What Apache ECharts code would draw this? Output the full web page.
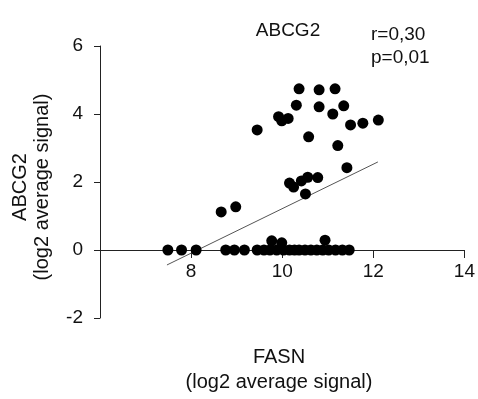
<!DOCTYPE html>
<html>
<head>
<meta charset="utf-8">
<script src="https://cdn.jsdelivr.net/npm/echarts@6/dist/echarts.min.js"></script>
<style>html,body{margin:0;padding:0;background:#fff;}#c{width:478px;height:399px;}</style>
</head>
<body>
<div id="c"></div>
<script>
var xTicks = [6, 8, 10, 12, 14];
var yTicks = [-2, 0, 2, 4, 6];
var fasn = [7.49, 7.79, 8.11, 8.76, 8.95, 9.17, 9.45, 9.60, 9.73, 9.88, 10.03, 10.16, 10.27, 10.37, 10.50, 10.63, 10.76, 10.89, 11.02, 11.17, 11.32, 11.47,
            9.77, 9.99, 10.94,
            9.45, 9.92, 9.99, 10.13, 10.37, 10.31, 10.81, 11.16, 10.81, 11.35, 11.11, 11.50, 11.77, 12.11, 10.58, 11.22, 11.42,
            10.16, 10.25, 10.42, 10.56, 10.78, 10.51, 8.98, 8.66];
var abcg2 = [0, 0, 0, 0, 0, 0, 0, 0, 0, 0, 0, 0, 0, 0, 0, 0, 0, 0, 0, 0, 0, 0,
             0.27, 0.21, 0.29,
             3.53, 3.92, 3.80, 3.87, 4.74, 4.26, 4.71, 4.74, 4.21, 4.24, 4.00, 3.68, 3.73, 3.82, 3.33, 3.07, 2.42,
             1.97, 1.85, 2.03, 2.14, 2.13, 1.65, 1.27, 1.12];
var fitX = [7.47, 12.10];
var fitY = [-0.44, 2.59];
var titleText = 'ABCG2';
var statLines = ['r=0,30', 'p=0,01'];
var xNameLines = ['FASN', '(log2 average signal)'];
var yNameLines = ['ABCG2', '(log2 average signal)'];

var pts = fasn.map(function (x, i) { return [x, abcg2[i]]; });
var fit = fitX.map(function (x, i) { return [x, fitY[i]]; });
var FONT = 'Liberation Sans, Arial, sans-serif';
var axisCol = '#222';

var gridTop = 46, gridBottom = 81, H = 399;
var plotH = H - gridTop - gridBottom;
var yMin = yTicks[0], yMax = yTicks[yTicks.length - 1];
var zeroOffset = -plotH * (0 - yMin) / (yMax - yMin);

var chart = echarts.init(document.getElementById('c'));
chart.setOption({
  animation: false,
  backgroundColor: '#fff',
  grid: { left: 100, right: 6, top: gridTop, bottom: gridBottom },
  xAxis: {
    type: 'value', min: xTicks[0], max: xTicks[xTicks.length - 1], interval: 2,
    position: 'bottom', offset: zeroOffset,
    axisLine: { onZero: false, lineStyle: { color: axisCol, width: 1 } },
    axisTick: { show: true, length: 8, inside: false, lineStyle: { color: axisCol } },
    axisLabel: {
      margin: 12, fontFamily: FONT, fontSize: 19, color: '#111',
      formatter: function (v) { return v === xTicks[0] ? '' : String(v); }
    },
    splitLine: { show: false }
  },
  yAxis: {
    type: 'value', min: yMin, max: yMax, interval: 2,
    axisLine: { show: true, onZero: false, lineStyle: { color: axisCol, width: 1 } },
    axisTick: { show: true, length: 6, lineStyle: { color: axisCol } },
    axisLabel: { margin: 17, fontFamily: FONT, fontSize: 19, color: '#111' },
    splitLine: { show: false }
  },
  graphic: [
    { type: 'text', x: 288, y: 31, style: { text: titleText, font: '19px ' + FONT, fill: '#111', textAlign: 'center', textVerticalAlign: 'middle' } },
    { type: 'text', x: 371, y: 35, style: { text: statLines[0], font: '19px ' + FONT, fill: '#111', textVerticalAlign: 'middle' } },
    { type: 'text', x: 371, y: 58, style: { text: statLines[1], font: '19px ' + FONT, fill: '#111', textVerticalAlign: 'middle' } },
    { type: 'text', x: 279, y: 357, style: { text: xNameLines[0], font: '20px ' + FONT, fill: '#111', textAlign: 'center', textVerticalAlign: 'middle' } },
    { type: 'text', x: 279, y: 382, style: { text: xNameLines[1], font: '20px ' + FONT, fill: '#111', textAlign: 'center', textVerticalAlign: 'middle' } },
    { type: 'text', x: 20, y: 187, rotation: Math.PI / 2, style: { text: yNameLines[0], font: '20px ' + FONT, fill: '#111', textAlign: 'center', textVerticalAlign: 'middle' } },
    { type: 'text', x: 42, y: 187, rotation: Math.PI / 2, style: { text: yNameLines[1], font: '20px ' + FONT, fill: '#111', textAlign: 'center', textVerticalAlign: 'middle' } }
  ],
  series: [
    {
      type: 'line', data: fit, symbol: 'none', silent: true,
      lineStyle: { color: '#555', width: 1 }, z: 2
    },
    {
      type: 'scatter', data: pts, symbol: 'circle', symbolSize: 11,
      itemStyle: { color: '#000', opacity: 1 }, z: 3
    }
  ]
});
</script>
</body>
</html>
